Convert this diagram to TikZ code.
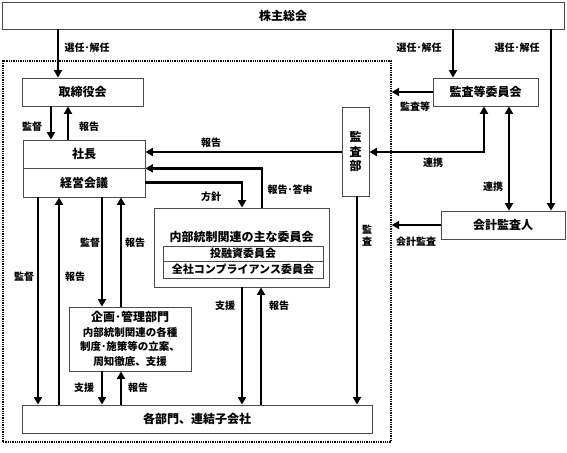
\documentclass[tikz,border=0pt]{standalone}
\usepackage{fontspec}
\setmainfont{Noto Sans CJK JP}
\usetikzlibrary{arrows.meta}
\begin{document}
\begin{tikzpicture}[x=1pt,y=-1pt,
  box/.style={draw=black!70,line width=0.8pt,fill=white,inner sep=0pt,font=\bfseries\fontsize{12}{14}\selectfont},
  lbl/.style={inner sep=0pt,font=\bfseries\fontsize{10}{12}\selectfont},
  arr/.style={line width=2.5pt,-{Triangle[length=7.5pt,width=8pt]}},
  darr/.style={line width=2.5pt,{Triangle[length=7.5pt,width=8pt]}-{Triangle[length=7.5pt,width=8pt]}}]
\useasboundingbox (0,0) rectangle (567,452);
% columns and rows for the connectors
\coordinate (colA) at (58,0);
\coordinate (colB) at (453,0);
\coordinate (colC) at (551,0);
\coordinate (colD) at (51,0);
\coordinate (colE) at (68,0);
\coordinate (colF) at (484,0);
\coordinate (colG) at (509,0);
\coordinate (colH) at (262,0);
\coordinate (colI) at (242,0);
\coordinate (colJ) at (261,0);
\coordinate (colK) at (38,0);
\coordinate (colL) at (59,0);
\coordinate (colM) at (102,0);
\coordinate (colN) at (121,0);
\coordinate (colO) at (357,0);
\coordinate (rowA) at (0,152);
% dotted frame
\node[draw,densely dotted,line width=1.3pt,inner sep=0pt,minimum width=388,minimum height=381] (frame) at (197,251.5) {};
% boxes
\node[box,minimum width=562,minimum height=27] (agm) at (283,15.5) {株主総会};
\node[box,minimum width=121,minimum height=28] (board) at (82.5,92) {取締役会};
\node[box,minimum width=105,minimum height=28] (ac) at (485.5,92) {監査等委員会};
\node[box,minimum width=122,minimum height=28] (pres) at (84,154) {社長};
\node[box,minimum width=122,minimum height=29] (mgmt) at (84,182.5) {経営会議};
\node[box,minimum width=27,minimum height=89,align=center,font=\bfseries\fontsize{12}{14.5}\selectfont] (audit) at (355.5,151.5) {監\\査\\部};
\node[box,minimum width=124,minimum height=28] (auditor) at (503,225) {会計監査人};
\node[box,minimum width=175,minimum height=79] (icc) at (241.5,247.5) {};
\node[lbl,font=\bfseries\fontsize{12}{14}\selectfont] (icctitle) at (241.5,237) {内部統制関連の主な委員会};
\node[box,minimum width=160,minimum height=15,font=\bfseries\fontsize{11}{12}\selectfont] (invest) at (243,253.5) {投融資委員会};
\node[box,minimum width=160,minimum height=17,font=\bfseries\fontsize{11}{12}\selectfont] (comp) at (243,269.5) {全社コンプライアンス委員会};
\node[box,minimum width=122,minimum height=64,align=center,font=\bfseries\fontsize{10.5}{14.5}\selectfont] (plan) at (130,339) {{\fontsize{12}{14.5}\selectfont 企画･管理部門}\\内部統制関連の各種\\制度･施策等の立案、\\周知徹底、支援};
\node[box,minimum width=350,minimum height=28] (depts) at (197,419) {各部門、連結子会社};
% connectors
\draw[arr] (agm.south -| colA) -- (board.north -| colA);
\draw[arr] (agm.south -| colB) -- (ac.north -| colB);
\draw[arr] (agm.south -| colC) -- (auditor.north -| colC);
\draw[arr] (ac.west) -- (ac.west -| frame.east);
\draw[arr] (board.south -| colD) -- (pres.north -| colD);
\draw[arr] (pres.north -| colE) -- (board.south -| colE);
\draw[arr] (audit.west |- rowA) -- (pres.east |- rowA);
\draw[darr] (ac.south -| colF) |- (audit.east |- rowA);
\draw[darr] (ac.south -| colG) -- (auditor.north -| colG);
\draw[arr] (auditor.west) -- (auditor.west -| frame.east);
\draw[arr] (icc.north -| colH) |- (pres.south east);
\draw[arr] (mgmt.east) -| (icc.north -| colI);
\draw[arr] (mgmt.south -| colK) -- (depts.north -| colK);
\draw[arr] (depts.north -| colL) -- (mgmt.south -| colL);
\draw[arr] (mgmt.south -| colM) -- (plan.north -| colM);
\draw[arr] (plan.north -| colN) -- (mgmt.south -| colN);
\draw[arr] (plan.south -| colM) -- (depts.north -| colM);
\draw[arr] (depts.north -| colN) -- (plan.south -| colN);
\draw[arr] (icc.south -| colI) -- (depts.north -| colI);
\draw[arr] (depts.north -| colJ) -- (icc.south -| colJ);
\draw[arr] (audit.south -| colO) -- (depts.north -| colO);
% labels
\node[lbl] (l1) at (87,48) {選任･解任};
\node[lbl] (l2) at (419,48) {選任･解任};
\node[lbl] (l3) at (517,48) {選任･解任};
\node[lbl] (l4) at (415,107) {監査等};
\node[lbl] (l5) at (32,127) {監督};
\node[lbl] (l6) at (89,127) {報告};
\node[lbl] (l7) at (211,143) {報告};
\node[lbl] (l8) at (433,163) {連携};
\node[lbl] (l9) at (493,187) {連携};
\node[lbl] (l10) at (416,242) {会計監査};
\node[lbl] (l11) at (290,190) {報告･答申};
\node[lbl] (l12) at (211,197) {方針};
\node[lbl] (l13) at (24,277) {監督};
\node[lbl] (l14) at (75,277) {報告};
\node[lbl] (l15) at (90,243) {監督};
\node[lbl] (l16) at (135,243) {報告};
\node[lbl] (l17) at (84,388) {支援};
\node[lbl] (l18) at (138,388) {報告};
\node[lbl] (l19) at (225,306) {支援};
\node[lbl] (l20) at (279,306) {報告};
\node[lbl,align=center] (l21) at (367,236) {監\\査};
\end{tikzpicture}
\end{document}
